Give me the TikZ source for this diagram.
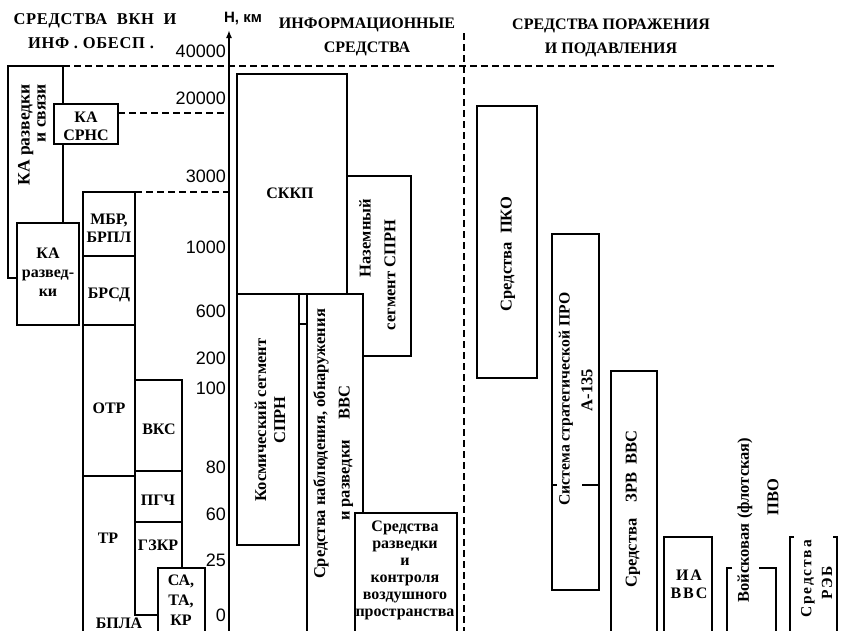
\documentclass[tikz,border=0pt]{standalone}
\usepackage{fontspec}
\setmainfont{Liberation Serif}
\setsansfont{Liberation Sans}
\usetikzlibrary{arrows.meta}
\newfontfamily\spacedfont[LetterSpace=12]{Liberation Serif}
\newfontfamily\hdrfont[LetterSpace=4]{Liberation Serif}
\tikzset{
  box/.style={draw, fill=white, line width=1.1pt},
  edge/.style={draw, line width=1.1pt},
  lbl/.style={font=\bfseries\fontsize{16}{18}\selectfont, align=center, inner sep=0pt},
  vlbl/.style={lbl, rotate=90, font=\bfseries\fontsize{16.5}{19}\selectfont},
  hdr/.style={font=\bfseries\fontsize{16}{24}\selectfont, align=center, inner sep=0pt},
  axlbl/.style={font=\sffamily\fontsize{18}{18}\selectfont, anchor=east, inner sep=0pt},
  dsh/.style={line width=1.1pt, dash pattern=on 7pt off 4pt},
}
\begin{document}
\begin{tikzpicture}[x=1pt,y=-1pt]
\useasboundingbox (0,0) rectangle (849,630);
\clip (0,0) rectangle (849,630);
\fill[white] (0,0) rectangle (849,630);

% ---------- left column: spacecraft ----------
\draw[box] (8,66) rectangle (63,278);
\node[vlbl, align=right, font=\bfseries\fontsize{17.5}{16}\selectfont] (kars) at (32,135) {КА разведки\\и связи};
\draw[box] (54,104) rectangle (118,144);
\node[lbl] (srns) at (86,126) {КА\\СРНС};
\draw[box] (17,223) rectangle (79,325);
\node[lbl, font=\bfseries\fontsize{16}{19}\selectfont] (kar) at (48,272) {КА\\развед-\\ки};

% ---------- missiles ----------
\draw[box] (83,192) rectangle (135,256);
\node[lbl] (mbr) at (109,228) {МБР,\\БРПЛ};
\draw[box] (83,256) rectangle (135,325);
\node[lbl] (brsd) at (109,295) {БРСД};
\draw[box] (83,325) rectangle (135,476);
\node[lbl] (otr) at (109,408) {ОТР};
\draw[edge] (135,615) -- (135,476) -- (83,476) -- (83,640);
\node[lbl] (tr) at (108,538) {ТР};
\draw[box] (135,380) rectangle (182,471);
\node[lbl] (vks) at (159,429) {ВКС};
\draw[box] (135,471) rectangle (182,522);
\node[lbl] (pgch) at (158,500) {ПГЧ};
\draw[box] (135,522) rectangle (182,615);
\node[lbl] (gzkr) at (158,545) {ГЗКР};
\draw[box] (158,568) rectangle (205,640);
\node[lbl, font=\bfseries\fontsize{16}{20}\selectfont] (sa) at (181,600) {СА,\\ТА,\\КР};
\node[lbl] (bpla) at (119,623) {БПЛА};

% ---------- dashed levels ----------
\coordinate (topL) at (63,66);
\coordinate (topR) at (777,66);
\draw[dsh] (topL) -- (topR);
\coordinate (l20) at (118,113);
\coordinate (a20) at (229,113);
\draw[dsh] (l20) -- (a20);
\coordinate (l3) at (135,192);
\coordinate (a3) at (229,192);
\draw[dsh] (l3) -- (a3);
\coordinate (vt) at (464,33);
\coordinate (vb) at (464,640);
\draw[dsh] (vt) -- (vb);

% ---------- axis ----------
\coordinate (axb) at (229,640);
\coordinate (axt) at (229,30);
\draw[line width=2pt, -{Latex[length=8pt,width=6pt]}] (axb) -- (axt);
\node[font=\sffamily\bfseries\fontsize{15}{15}\selectfont, inner sep=0pt] (hkm) at (243,18) {Н, км};
\node[axlbl] (t40000) at (226,51) {40000};
\node[axlbl] (t20000) at (226,98) {20000};
\node[axlbl] (t3000) at (226,176) {3000};
\node[axlbl] (t1000) at (226,247) {1000};
\node[axlbl] (t600) at (226,311) {600};
\node[axlbl] (t200) at (226,358) {200};
\node[axlbl] (t100) at (226,388) {100};
\node[axlbl] (t80) at (226,467) {80};
\node[axlbl] (t60) at (226,514) {60};
\node[axlbl] (t25) at (226,560) {25};
\node[axlbl] (t0) at (226,615) {0};

% ---------- headers ----------
\node[hdr, font=\hdrfont\bfseries\fontsize{16.5}{22}\selectfont] (h1a) at (95,21) {СРЕДСТВА\ \ ВКН\ \ И};
\node[hdr, font=\hdrfont\bfseries\fontsize{16.5}{22}\selectfont] (h1b) at (91,43) {ИНФ\ .\ ОБЕСП\ .};
\node[hdr] (h2) at (367,37) {ИНФОРМАЦИОННЫЕ\\СРЕДСТВА};
\node[hdr] (h3) at (611,38) {СРЕДСТВА ПОРАЖЕНИЯ\\И ПОДАВЛЕНИЯ};

% ---------- information means ----------
\draw[box] (237,74) rectangle (347,294);
\node[lbl] (skkp) at (290,193) {СККП};
\draw[box] (347,176) rectangle (411,356);
\node[vlbl] (naz1) at (365,238) {Наземный};
\node[vlbl] (naz2) at (390,275) {сегмент СПРН};
\draw[box] (237,294) rectangle (299,545);
\node[vlbl] (kos) at (270,420) {Космический сегмент\\СПРН};
\draw[box] (307,294) rectangle (363,640);
\coordinate (c1) at (299,324);
\coordinate (c2) at (307,324);
\draw[edge] (c1) -- (c2);
\node[vlbl] (nab1) at (321,444) {Средства наблюдения, обнаружения};
\node[vlbl] (nab2) at (346,453) {и разведки\quad\ ВВС};
\draw[box] (355,513) rectangle (457,640);
\node[lbl, font=\bfseries\fontsize{16}{17}\selectfont] (vozd) at (405,570) {Средства\\разведки\\и\\контроля\\воздушного\\пространства};

% ---------- destruction means ----------
\draw[box] (477,106) rectangle (537,378);
\node[vlbl] (pko) at (508,254) {Средства\ \ ПКО};
\draw[box] (552,234) rectangle (599,590);
\draw[edge] (552,485) -- (557,485);
\draw[edge] (582,485) -- (599,485);
\node[vlbl, font=\bfseries\fontsize{15.7}{18}\selectfont] (pro1) at (566,399) {Система стратегической ПРО};
\node[vlbl] (pro2) at (587,390) {А-135};
\draw[box] (611,371) rectangle (657,640);
\node[vlbl] (zrv) at (633,509) {Средства\quad ЗРВ\ \ ВВС};
\draw[box] (664,537) rectangle (712,640);
\node[lbl, font=\spacedfont\bfseries\fontsize{16}{18}\selectfont] (ia) at (689,584) {ИА\\ВВС};
\draw[edge] (732,568) -- (727,568) -- (727,640);
\draw[edge] (759,568) -- (776,568) -- (776,640);
\node[vlbl] (voi1) at (745,520) {Войсковая (флотская)};
\node[vlbl] (voi2) at (773,497) {ПВО};
\draw[edge] (794,537) -- (790,537) -- (790,640);
\draw[edge] (833,537) -- (837,537) -- (837,640);
\node[vlbl, font=\spacedfont\bfseries\fontsize{15.5}{18}\selectfont] (reb1) at (808,579) {Средства};
\node[vlbl, font=\spacedfont\bfseries\fontsize{15.5}{18}\selectfont] (reb2) at (827,583) {РЭБ};
\end{tikzpicture}
\end{document}
